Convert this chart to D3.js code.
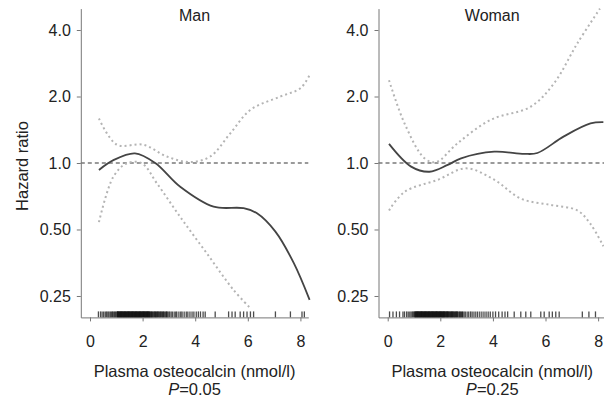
<!DOCTYPE html>
<meta charset="utf-8">
<style>

body { margin: 0; background: #fff; }

text {
  font-family: "Liberation Sans", Arial, sans-serif;
  fill: #222;
}

.axis path, .axis line {
  stroke: #777;
  stroke-width: 1;
}

</style>
<body>
<svg width="604" height="403"></svg>
<script src="https://d3js.org/d3.v7.min.js"></script>
<script>

// tick values shared by both panels
var xTicks = [0, 2, 4, 6, 8];
var yTicks = [0.25, 0.5, 1, 2, 4];
var yTickLabels = ["0.25", "0.50", "1.0", "2.0", "4.0"];

// Man: spline fit and 95% CI, [osteocalcin, hazard ratio]
var manFit = [[0.34,0.93],[0.89,1.03],[1.71,1.106],[2.48,1.0],[3.43,0.78],[4.70,0.634],[5.84,0.624],[6.35,0.592],[7.05,0.489],[7.75,0.352],[8.35,0.24]];
var manUpper = [[0.34,1.59],[1.02,1.21],[2.03,1.21],[2.92,1.07],[3.81,1.01],[4.57,1.07],[5.33,1.36],[6.10,1.74],[7.24,2.0],[8.0,2.18],[8.35,2.5]];
var manLower = [[0.34,0.54],[0.89,0.867],[1.40,0.997],[1.97,0.997],[2.54,0.81],[3.43,0.57],[4.44,0.39],[5.46,0.266],[6.1,0.22]];
var manRug = [0.32,0.40,0.46,0.52,0.58,0.63,0.68,0.72,0.77,0.81,0.85,0.88,0.92,0.95,0.98,
  1.02,1.04,1.05,1.07,1.08,1.10,1.11,1.13,1.14,1.16,1.17,1.19,1.20,1.22,1.23,1.25,1.26,1.28,1.29,1.31,
  1.32,1.34,1.35,1.37,1.38,1.40,1.41,1.43,1.44,1.46,1.47,1.49,1.50,1.52,1.53,1.55,1.56,1.58,1.59,1.61,
  1.62,1.64,1.65,1.67,1.68,1.70,1.71,1.73,1.74,1.76,1.77,1.79,1.80,1.82,1.83,1.85,1.86,1.88,1.89,1.91,
  1.92,1.94,1.95,1.97,1.98,2.00,2.01,2.03,2.04,2.06,2.07,2.09,2.10,2.12,2.13,2.15,2.16,2.18,2.19,2.21,
  2.22,2.24,2.25,2.27,2.28,2.31,2.33,2.35,2.37,2.40,2.43,2.45,2.48,2.50,2.52,2.55,2.57,2.60,2.63,2.66,
  2.68,2.72,2.75,2.78,2.80,2.84,2.88,2.91,2.93,2.97,3.02,
  3.08,3.13,3.20,3.26,3.30,3.38,3.45,3.50,3.58,3.66,3.72,3.80,3.88,3.95,4.04,4.12,4.20,4.30,4.38,
  4.76,5.27,5.40,5.52,5.71,5.84,5.97,6.10,6.22,7.05,7.62,8.06,8.15];

// Woman
var womanFit = [[0.05,1.22],[0.89,0.963],[1.59,0.913],[2.28,0.98],[2.79,1.05],[4.05,1.125],[5.19,1.10],[5.69,1.11],[6.70,1.32],[7.71,1.51],[8.2,1.53]];
var womanUpper = [[0.05,2.37],[0.64,1.51],[1.40,1.05],[1.84,1.01],[2.66,1.23],[3.92,1.57],[5.44,1.80],[6.33,2.3],[7.21,3.48],[8.07,5.0]];
var womanLower = [[0.05,0.61],[0.64,0.74],[1.91,0.84],[2.98,0.946],[4.05,0.84],[5.06,0.69],[6.20,0.646],[7.21,0.61],[7.71,0.53],[8.2,0.42]];
var womanRug = [0.07,0.20,0.33,0.45,0.58,0.64,0.72,0.78,0.84,0.89,0.94,0.98,
  1.02,1.04,1.05,1.07,1.08,1.10,1.11,1.13,1.14,1.16,1.17,1.19,1.20,1.22,1.23,1.25,1.26,1.28,1.29,1.31,
  1.32,1.34,1.35,1.37,1.38,1.40,1.41,1.43,1.44,1.46,1.47,1.49,1.50,1.52,1.53,1.55,1.56,1.58,1.59,1.61,
  1.62,1.64,1.65,1.67,1.68,1.70,1.71,1.73,1.74,1.76,1.77,1.79,1.80,1.82,1.83,1.85,1.86,1.88,1.89,1.91,
  1.92,1.94,1.95,1.97,1.98,2.00,2.01,2.03,2.04,2.06,2.07,2.09,2.10,2.12,2.13,2.15,2.16,
  2.18,2.20,2.22,2.24,2.26,2.27,2.29,2.31,2.33,2.35,2.38,2.40,2.42,2.44,2.46,2.48,2.50,2.53,2.55,2.58,
  2.60,2.62,2.65,2.67,2.71,2.74,2.76,2.80,2.83,2.85,2.90,
  2.95,3.02,3.08,3.15,3.21,3.28,3.35,3.42,3.50,3.58,3.66,3.74,3.82,3.90,4.00,4.10,4.22,4.35,4.46,4.56,
  4.81,5.06,5.25,5.44,5.82,5.95,6.14,6.26,6.39,6.52,7.40,7.65,7.90];

var svg = d3.select("svg");

var y = d3.scaleLog()
	.base(2)
	.domain([0.2, 5])
	.range([317.4, 8.6]);

var panelWidth = 227.5;

function drawPanel(ox, title, fit, upper, lower, rug, pValue){
	var x = d3.scaleLinear()
		.domain([-0.35, 8.3])
		.range([ox, ox + panelWidth]);

	var line = d3.line()
		.x(function(d){ return x(d[0]); })
		.y(function(d){ return y(d[1]); })
		.curve(d3.curveCatmullRom.alpha(0.5));

	var g = svg.append("g");

	// reference line at HR = 1
	g.append("line")
		.attr("x1", x.range()[0])
		.attr("x2", x.range()[1])
		.attr("y1", y(1))
		.attr("y2", y(1))
		.style("stroke", "#7a7a7a")
		.style("stroke-width", 1.6)
		.style("stroke-dasharray", "4,3");

	[upper, lower].forEach(function(ci){
		g.append("path")
			.attr("d", line(ci))
			.style("fill", "none")
			.style("stroke", "#b4b4b4")
			.style("stroke-width", 2)
			.style("stroke-dasharray", "2,3");
	});

	g.append("path")
		.attr("d", line(fit))
		.style("fill", "none")
		.style("stroke", "#444")
		.style("stroke-width", 1.8);

	// rug of observations
	g.selectAll(".rug")
		.data(rug)
		.enter().append("line")
		.attr("class", "rug")
		.attr("x1", x)
		.attr("x2", x)
		.attr("y1", y.range()[0] - 6)
		.attr("y2", y.range()[0])
		.style("stroke", "#111")
		.style("stroke-opacity", 0.75)
		.style("stroke-width", 1.3);

	var yAxis = d3.axisLeft(y)
		.tickValues(yTicks)
		.tickFormat(function(d, i){ return yTickLabels[i]; })
		.tickSize(4)
		.tickSizeOuter(0)
		.tickPadding(6);

	g.append("g")
		.attr("class", "axis")
		.attr("transform", "translate(" + ox + ",0)")
		.call(yAxis)
		.attr("font-size", 16)
		.attr("font-family", null);

	var xAxis = d3.axisBottom(x)
		.tickValues(xTicks)
		.tickSize(4)
		.tickSizeOuter(0)
		.tickPadding(14);

	g.append("g")
		.attr("class", "axis")
		.attr("transform", "translate(0," + y.range()[0] + ")")
		.call(xAxis)
		.attr("font-size", 16)
		.attr("font-family", null);

	var cx = ox + panelWidth / 2;

	g.append("text")
		.attr("x", cx)
		.attr("y", 21)
		.attr("text-anchor", "middle")
		.style("font-size", "16px")
		.text(title);

	g.append("text")
		.attr("x", cx)
		.attr("y", 377)
		.attr("text-anchor", "middle")
		.style("font-size", "16.5px")
		.text("Plasma osteocalcin (nmol/l)");

	var p = g.append("text")
		.attr("x", cx)
		.attr("y", 395)
		.attr("text-anchor", "middle")
		.style("font-size", "16.5px");
	p.append("tspan").style("font-style", "italic").text("P");
	p.append("tspan").text("=" + pValue);
}

drawPanel(80.8, "Man", manFit, manUpper, manLower, manRug, "0.05");
drawPanel(378.5, "Woman", womanFit, womanUpper, womanLower, womanRug, "0.25");

svg.append("text")
	.attr("transform", "translate(28,166) rotate(-90)")
	.attr("text-anchor", "middle")
	.style("font-size", "16.5px")
	.text("Hazard ratio");

</script>
</body>
